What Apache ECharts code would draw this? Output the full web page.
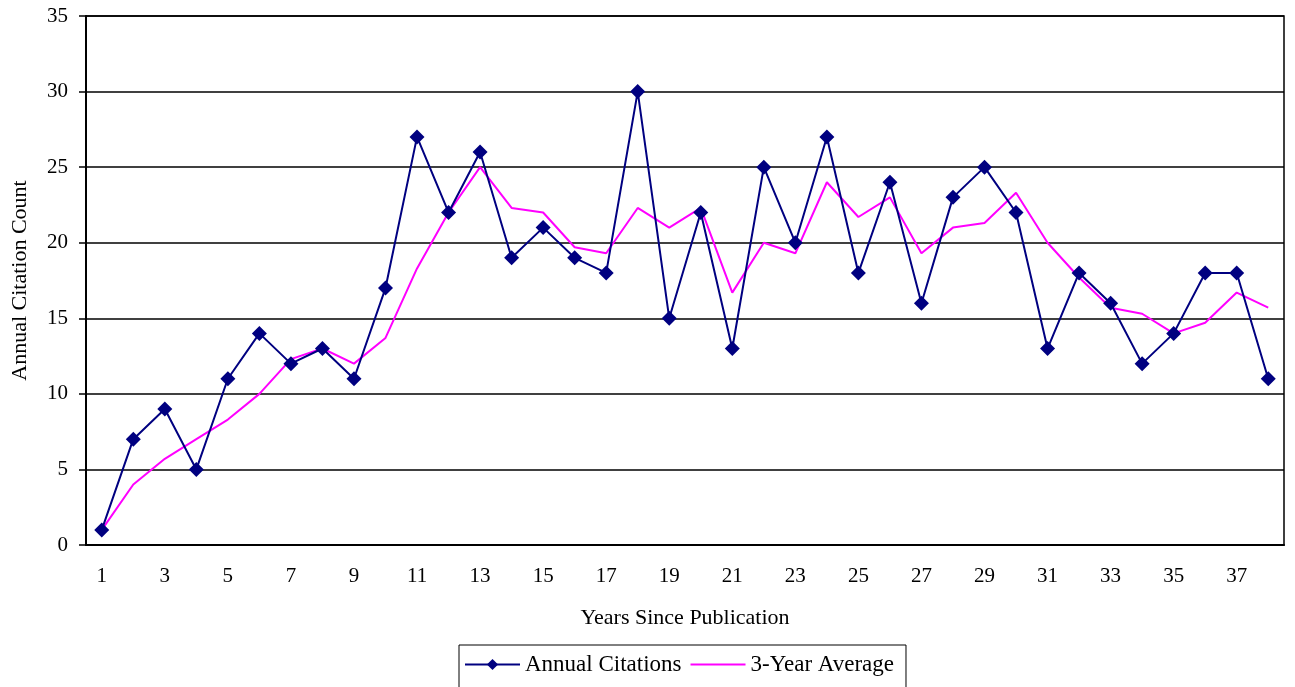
<!DOCTYPE html>
<html lang="en">

<head>
    <meta charset="UTF-8">
    <title>Annual Citations</title>
    <script src="https://cdn.jsdelivr.net/npm/echarts@6/dist/echarts.min.js"></script>
    <style>
        * {
            padding: 0;
            margin: 0;
        }

        #chart {
            width: 1295px;
            height: 687px;
            background: #fff;
        }
    </style>
</head>

<body>
    <div id="chart"></div>
    <script>
        // years since publication
        var years = [];
        for (var i = 1; i <= 38; i++) years.push(String(i));

        var annualCitations = [1, 7, 9, 5, 11, 14, 12, 13, 11, 17, 27, 22, 26, 19, 21, 19, 18, 30, 15,
            22, 13, 25, 20, 27, 18, 24, 16, 23, 25, 22, 13, 18, 16, 12, 14, 18, 18, 11];
        var threeYearAvg = [1, 4, 5.7, 7, 8.3, 10, 12.3, 13, 12, 13.7, 18.3, 22, 25, 22.3, 22, 19.7, 19.3,
            22.3, 21, 22.3, 16.7, 20, 19.3, 24, 21.7, 23, 19.3, 21, 21.3, 23.3, 20, 17.7, 15.7, 15.3, 14,
            14.7, 16.7, 15.7];

        var yTicks = { min: 0, max: 35, interval: 5 };

        var font = "Liberation Serif";
        var chart = echarts.init(document.getElementById("chart"), null, { renderer: "canvas" });

        chart.setOption({
            animation: false,
            backgroundColor: "#fff",
            grid: {
                left: 86,
                right: 11,
                top: 16,
                bottom: 142,
                show: true,
                borderColor: "#000",
                borderWidth: 1.5
            },
            legend: {
                top: 645,
                left: 459,
                padding: [8, 12, 30, 5],
                itemWidth: 55,
                itemHeight: 14,
                itemGap: 8,
                borderColor: "#000",
                borderWidth: 1,
                textStyle: { fontFamily: font, fontSize: 23, color: "#000" },
                data: [
                    "Annual Citations",
                    { name: "3-Year Average", itemStyle: { opacity: 0 } }
                ]
            },
            xAxis: {
                type: "category",
                data: years,
                boundaryGap: true,
                name: "Years Since Publication",
                nameLocation: "middle",
                nameGap: 62,
                nameTextStyle: { fontFamily: font, fontSize: 22, color: "#000" },
                axisLine: { lineStyle: { color: "#000", width: 2 } },
                axisTick: { interval: 0, length: 7, lineStyle: { color: "#000", width: 1.5 } },
                axisLabel: { interval: 1, margin: 21, fontFamily: font, fontSize: 21, color: "#000" },
                splitLine: { show: false }
            },
            yAxis: {
                type: "value",
                min: yTicks.min,
                max: yTicks.max,
                interval: yTicks.interval,
                name: "Annual Citation Count",
                nameLocation: "middle",
                nameGap: 55,
                nameTextStyle: { fontFamily: font, fontSize: 22, color: "#000" },
                axisLine: { show: true, lineStyle: { color: "#000", width: 2 } },
                axisTick: { show: true, length: 7, lineStyle: { color: "#000", width: 1.5 } },
                axisLabel: { margin: 18, fontFamily: font, fontSize: 21, color: "#000" },
                splitLine: { lineStyle: { color: "#000", width: 1.5 } }
            },
            series: [
                {
                    name: "Annual Citations",
                    type: "line",
                    data: annualCitations,
                    symbol: "diamond",
                    symbolSize: 15,
                    lineStyle: { color: "#000080", width: 2 },
                    itemStyle: { color: "#000080" },
                    z: 3
                },
                {
                    name: "3-Year Average",
                    type: "line",
                    data: threeYearAvg,
                    symbol: "none",
                    lineStyle: { color: "#ff00ff", width: 2 },
                    itemStyle: { color: "#ff00ff" },
                    z: 2
                }
            ]
        });
    </script>
</body>

</html>
